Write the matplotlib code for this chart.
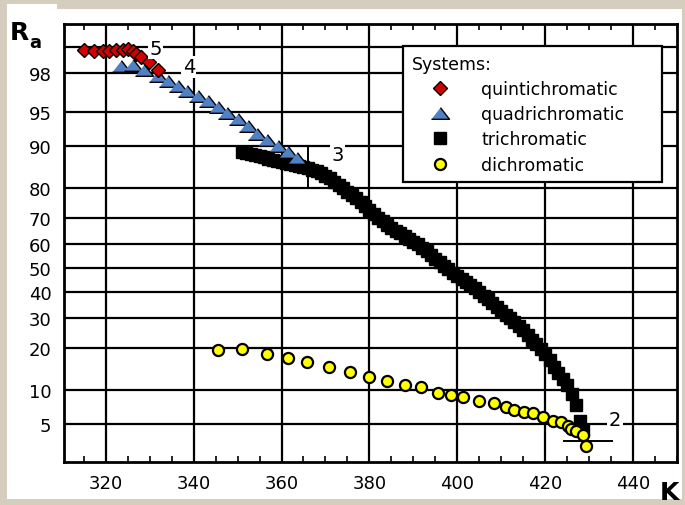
import numpy as np
import matplotlib
matplotlib.use('Agg')
from matplotlib import pyplot as plt
from matplotlib.patches import Rectangle
from matplotlib.ticker import FixedLocator, MultipleLocator
from statistics import NormalDist

# --- data (x = K, y = Ra) ---
quint_x = [315.0, 317.3, 319.3, 320.7, 322.3, 323.9, 325.0, 326.1, 326.8, 328.0, 329.8, 331.8]
quint_y = [98.91, 98.88, 98.88, 98.88, 98.91, 98.91, 98.94, 98.88, 98.79, 98.68, 98.49, 98.14]

quad_x = [323.4, 326.1, 328.6, 331.8, 334.1, 336.4, 338.6, 340.9, 343.2, 345.5,
          347.7, 350.0, 352.3, 354.5, 356.8, 359.1, 361.4, 363.6]
quad_y = [98.32, 98.37, 98.14, 97.84, 97.55, 97.23, 96.88, 96.49, 96.06, 95.5,
          94.87, 94.16, 93.25, 92.1, 91.1, 90.0, 88.9, 87.7]

tri_x = [351, 352, 353, 354, 355, 356, 357, 358, 359, 360, 361, 362, 363, 364, 365,
         366, 367, 368, 369, 370, 371, 372, 373, 374, 375, 376, 377, 378, 379, 380,
         381, 382, 383, 384, 385, 386, 387, 388, 389, 390, 391, 392, 393, 394, 395,
         396, 397, 398, 399, 400, 401, 402, 403, 404, 405, 406, 407, 408, 409, 410,
         411, 412, 413, 414, 415, 416, 417, 418, 419, 420, 421, 422, 423, 424, 425,
         426, 427, 428, 428.6]
tri_y = [88.9, 88.7, 88.5, 88.3, 88.0, 87.8, 87.5, 87.3, 87.0, 86.8, 86.5, 86.3, 86.1, 85.9, 85.6,
         85.3, 85.0, 84.7, 84.2, 83.5, 82.8, 81.8, 80.8, 79.9, 78.9, 77.9, 76.8, 75.6, 74.3, 73.0,
         71.6, 70.2, 68.9, 67.6, 66.4, 65.2, 64.2, 63.1, 62.0, 60.9, 59.8, 58.4, 57.0, 55.5, 54.0,
         52.6, 51.0, 49.4, 48.0, 46.8, 45.5, 44.2, 42.9, 41.5, 40.1, 38.6, 37.1, 35.6, 34.0, 32.6,
         31.2, 29.9, 28.5, 27.1, 25.7, 24.2, 22.6, 21.2, 19.7, 18.2, 16.6, 15.0, 13.5, 12.2, 10.9,
         9.2, 7.4, 5.4, 4.4]

di_x = [345.5, 351.1, 356.6, 361.4, 365.9, 370.9, 375.5, 379.8, 384.1, 388.2, 391.8, 395.7,
        398.5, 401.4, 405.0, 408.4, 411.1, 413.0, 415.2, 417.3, 419.5, 421.8, 423.6, 425.1,
        425.9, 427.0, 428.6, 429.2]
di_y = [19.4, 19.7, 18.3, 17.2, 16.1, 14.9, 13.7, 12.6, 11.7, 10.9, 10.5, 9.4,
        9.1, 8.7, 8.1, 7.8, 7.2, 6.7, 6.5, 6.35, 5.8, 5.4, 5.25, 4.8,
        4.5, 4.3, 3.9, 3.05]

x_ticks = [320, 340, 360, 380, 400, 420, 440]
y_ticks = [5, 10, 20, 30, 40, 50, 60, 70, 80, 90, 95, 98]
y_extra = [99]
labels = ['quintichromatic', 'quadrichromatic', 'trichromatic', 'dichromatic']

# annotation labels near curve ends
ann_text = ['5', '4', '3', '2']
ann_x = [331.4, 338.9, 372.7, 435.9]
ann_y = [98.97, 98.3, 88.5, 5.5]

# probability (normal) scale for Ra
nd = NormalDist()
_ppf = np.vectorize(nd.inv_cdf, otypes=[float])
_cdf = np.vectorize(nd.cdf, otypes=[float])


def fwd(v):
    v = np.clip(np.asarray(v, dtype=float) / 100.0, 1e-6, 1 - 1e-6)
    return _ppf(v)


def inv(z):
    return 100.0 * _cdf(np.asarray(z, dtype=float))


plt.rcParams['font.family'] = ['DejaVu Sans']

fig = plt.figure(figsize=(6.85, 5.06), dpi=100, facecolor='#d5cdbd')
fig.patches.append(Rectangle((7 / 685, 6 / 506), 675 / 685, 490 / 506,
                             transform=fig.transFigure, facecolor='white',
                             edgecolor='none', zorder=-10))
fig.patches.append(Rectangle((7 / 685, 490 / 506), 50 / 685, 11 / 506,
                             transform=fig.transFigure, facecolor='white',
                             edgecolor='none', zorder=-10))

ax = fig.add_axes([64 / 685, 43 / 506, 613 / 685, 438 / 506])
ax.set_yscale('function', functions=(fwd, inv))
ax.set_xlim(310.5, 450)
ax.set_ylim(2.06, 99.49)

h_tri, = ax.plot(tri_x, tri_y, ls='none', marker='s', ms=8.5, color='black',
                 mec='black', label=labels[2], zorder=3)
tri_marker = [(-1.4, -0.9), (1.4, -0.9), (0, 0.9)]
h_quad, = ax.plot(quad_x, quad_y, ls='none', marker=tri_marker, ms=13, color='#4f81c4',
                  mec='black', mew=1.0, label=labels[1], zorder=4)
h_quint, = ax.plot(quint_x, quint_y, ls='none', marker='D', ms=7.5, color='#d40000',
                   mec='black', mew=1.0, label=labels[0], zorder=5)
h_di, = ax.plot(di_x, di_y, ls='none', marker='o', ms=8, color='#ffff00',
                mec='black', mew=1.6, label=labels[3], zorder=5)

# grid
ax.set_xticks(x_ticks)
ax.set_yticks(y_ticks, [str(t) for t in y_ticks])
ax.yaxis.set_minor_locator(FixedLocator(y_extra))
ax.xaxis.set_minor_locator(MultipleLocator(5))
ax.grid(True, which='major', color='black', lw=1.6)
ax.grid(True, which='minor', axis='y', color='black', lw=1.6)
ax.set_axisbelow(True)
ax.tick_params(which='major', length=0, labelsize=13, pad=9)
ax.tick_params(axis='x', which='minor', direction='in', length=4, width=1.2,
               top=True, bottom=True)
ax.tick_params(axis='y', which='minor', length=0, labelleft=False)
for s in ax.spines.values():
    s.set_linewidth(2)

# small marks near the labels
ax.vlines([366.1], 80, 90, color='black', lw=1.4, zorder=2)
ax.hlines([3.43], 424.1, 435.5, color='black', lw=1.4, zorder=2)
ax.vlines([429.5], 2.9, 5, color='black', lw=1.4, zorder=2)

for t, x, y in zip(ann_text, ann_x, ann_y):
    ax.text(x, y, t, fontsize=14, ha='center', va='center', zorder=6,
            bbox=dict(facecolor='white', edgecolor='none', pad=1.0))

leg = ax.legend(handles=[h_quint, h_quad, h_tri, h_di], labels=labels,
                title='Systems:', alignment='left', loc='upper left',
                bbox_to_anchor=(0.553, 0.0, 0.4225, 0.95), mode='expand',
                fontsize=12.5, title_fontsize=12.5, fancybox=False, framealpha=1,
                edgecolor='black', borderpad=0.5, handlelength=3.3,
                handletextpad=0.7, labelspacing=0.42, borderaxespad=0)
leg.get_frame().set_linewidth(1.6)
leg.set_zorder(10)

fig.text(10 / 685, 1 - 40 / 506, 'R', fontsize=18, fontweight='bold', va='baseline')
fig.text(29 / 685, 1 - 48 / 506, 'a', fontsize=13, fontweight='bold', va='baseline')
fig.text(660 / 685, 6 / 506, 'K', fontsize=18, fontweight='bold', va='baseline')

fig.savefig('out.png', dpi=100, facecolor=fig.get_facecolor())
